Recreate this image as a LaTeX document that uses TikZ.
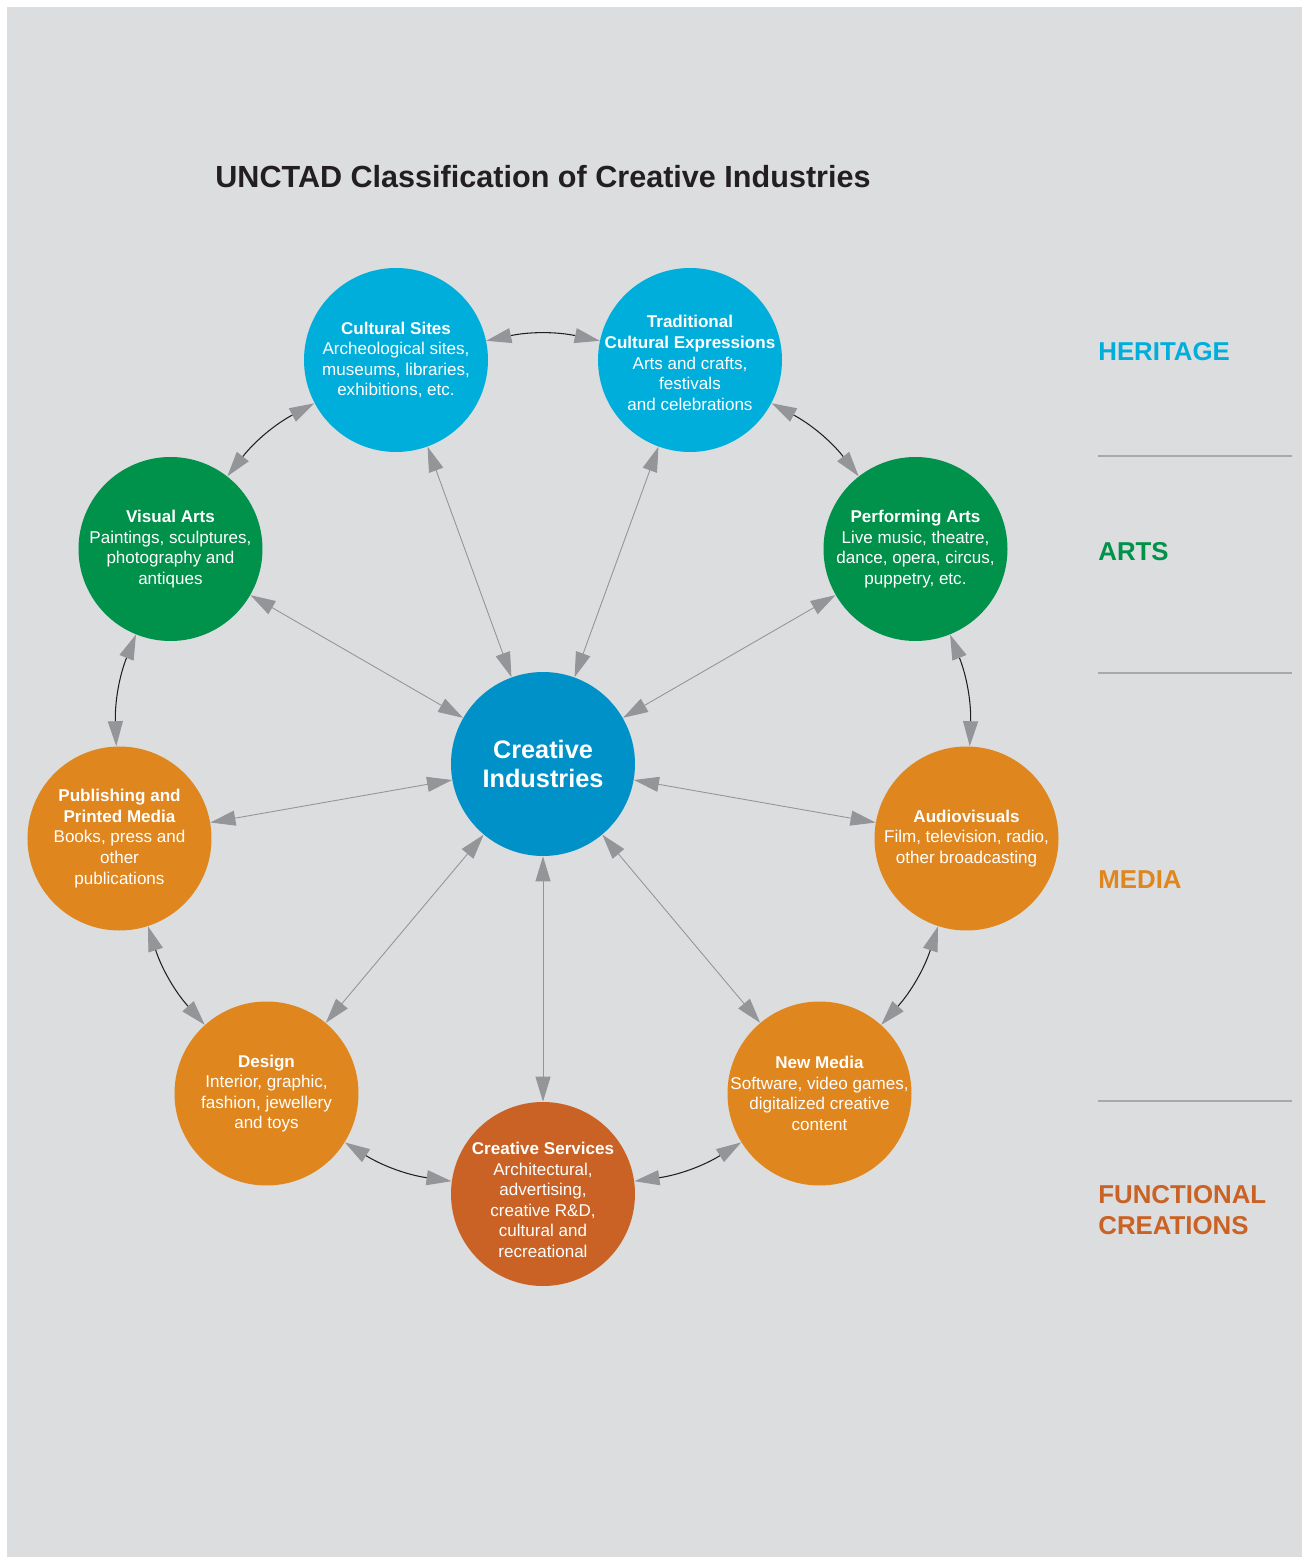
\documentclass[tikz,border=0pt]{standalone}
\usepackage{fontspec}
\setmainfont{Liberation Sans}
\usetikzlibrary{arrows.meta}

\definecolor{paper}{HTML}{DCDDDF}
\definecolor{heritage}{HTML}{00AEDB}
\definecolor{hubblue}{HTML}{0091C8}
\definecolor{arts}{HTML}{00914A}
\definecolor{media}{HTML}{E0861E}
\definecolor{functional}{HTML}{C96224}
\definecolor{titlegray}{HTML}{231F20}
\definecolor{tipgray}{HTML}{939598}
\definecolor{ringline}{HTML}{231F20}
\definecolor{rulegray}{HTML}{A7A9AC}

\begin{document}
\begin{tikzpicture}[
    hub/.style={circle, minimum size=3.68cm, inner sep=0pt},
    hubtext/.style={text=white, align=center, inner sep=0pt, font=\fontsize{9.7}{11.7}\selectfont},
    spoke/.style={draw=tipgray, line width=0.5pt, {Triangle[length=5mm,width=3mm]}-{Triangle[length=5mm,width=3mm]}},
    ring/.style={draw=ringline, line width=0.6pt, bend left=12, {Triangle[length=5mm,width=3mm,color=tipgray]}-{Triangle[length=5mm,width=3mm,color=tipgray]}},
    grouplabel/.style={anchor=west, align=left, inner sep=0pt, font=\bfseries\fontsize{14.7}{17.6}\selectfont},
    divider/.style={draw=rulegray, line width=0.8pt}
]
    \useasboundingbox (-10.86, -15.90) rectangle (15.22, 15.28);
    \fill[paper] (-10.72, -15.86) rectangle (15.18, 15.14);

    \node[text=titlegray, font=\bfseries\fontsize{17.4}{20}\selectfont] (title) at (0, 11.74) {UNCTAD Classification of Creative Industries};

    \node[hub, fill=hubblue, text=white, align=center, font=\bfseries\fontsize{14.4}{17}\selectfont] (ci) at (0, 0) {Creative\\Industries};

    \node[hub, fill=heritage] (cs) at (-2.94, 8.08) {};
    \node[hub, fill=heritage] (tce) at (2.94, 8.08) {};
    \node[hub, fill=arts] (va) at (-7.45, 4.30) {};
    \node[hub, fill=arts] (pa) at (7.45, 4.30) {};
    \node[hub, fill=media] (pub) at (-8.47, -1.49) {};
    \node[hub, fill=media] (av) at (8.47, -1.49) {};
    \node[hub, fill=media] (des) at (-5.53, -6.59) {};
    \node[hub, fill=media] (nm) at (5.53, -6.59) {};
    \node[hub, fill=functional] (csv) at (0, -8.6) {};

    \node[hubtext] (cs text) at (cs) {\textbf{Cultural Sites}\\Archeological sites,\\museums, libraries,\\exhibitions, etc.};
    \node[hubtext] (tce text) at ([yshift=-0.06cm]tce) {\textbf{Traditional}\\\textbf{Cultural Expressions}\\Arts and crafts,\\festivals\\and celebrations};
    \node[hubtext] (va text) at (va) {\textbf{Visual Arts}\\Paintings, sculptures,\\photography and\\antiques};
    \node[hubtext] (pa text) at (pa) {\textbf{Performing Arts}\\Live music, theatre,\\dance, opera, circus,\\puppetry, etc.};
    \node[hubtext] (pub text) at (pub) {\textbf{Publishing and}\\\textbf{Printed Media}\\Books, press and\\other\\publications};
    \node[hubtext] (av text) at (av) {\textbf{Audiovisuals}\\Film, television, radio,\\other broadcasting};
    \node[hubtext] (des text) at (des) {\textbf{Design}\\Interior, graphic,\\fashion, jewellery\\and toys};
    \node[hubtext] (nm text) at (nm) {\textbf{New Media}\\Software, video games,\\digitalized creative\\content};
    \node[hubtext] (csv text) at ([yshift=-0.12cm]csv) {\textbf{Creative Services}\\Architectural,\\advertising,\\creative R\&D,\\cultural and\\recreational};

    \draw[spoke] (ci) -- (cs);
    \draw[spoke] (ci) -- (tce);
    \draw[spoke] (ci) -- (va);
    \draw[spoke] (ci) -- (pa);
    \draw[spoke] (ci) -- (pub);
    \draw[spoke] (ci) -- (av);
    \draw[spoke] (ci) -- (des);
    \draw[spoke] (ci) -- (nm);
    \draw[spoke] (ci) -- (csv);

    \draw[ring] (cs) to (tce);
    \draw[ring] (tce) to (pa);
    \draw[ring] (pa) to (av);
    \draw[ring] (av) to (nm);
    \draw[ring] (nm) to (csv);
    \draw[ring] (csv) to (des);
    \draw[ring] (des) to (pub);
    \draw[ring] (pub) to (va);
    \draw[ring] (va) to (cs);

    \node[grouplabel, text=heritage] (heritage label) at (11.1, 8.24) {HERITAGE};
    \node[grouplabel, text=arts] (arts label) at (11.1, 4.24) {ARTS};
    \node[grouplabel, text=media] (media label) at (11.1, -2.32) {MEDIA};
    \node[grouplabel, text=functional] (functional label) at (11.1, -8.92) {FUNCTIONAL\\CREATIONS};

    \draw[divider] (11.1, 6.16) -- (14.98, 6.16);
    \draw[divider] (11.1, 1.82) -- (14.98, 1.82);
    \draw[divider] (11.1, -6.74) -- (14.98, -6.74);
  \end{tikzpicture}
\end{document}
